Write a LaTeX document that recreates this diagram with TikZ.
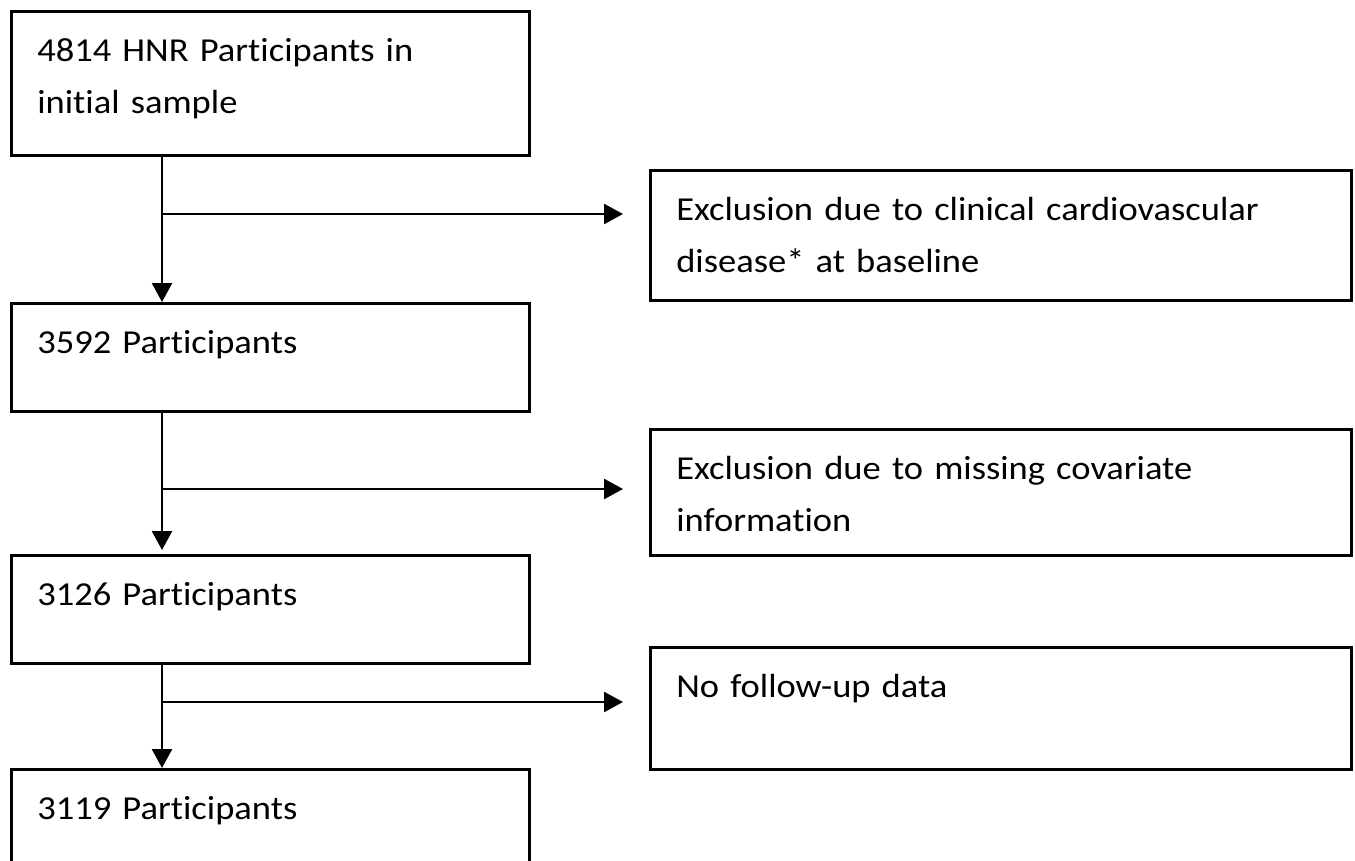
\documentclass[tikz,border=0pt]{standalone}
\usepackage{fontspec}
\setmainfont{Carlito}[Ligatures=CommonOff, FakeStretch=1.09]
\usetikzlibrary{arrows.meta}

\begin{document}
\begin{tikzpicture}[x=1pt, y=-1pt,
	box/.style={draw, line width=2.6pt, anchor=north west, align=left, inner xsep=26pt, inner ysep=24pt, text height=26pt, font=\fontsize{33.5}{52}\selectfont},
	stage/.style={box, text width=466pt, text depth=#1},
	excl/.style={box, text width=649pt, text depth=#1},
	flow/.style={line width=2.6pt, -{Triangle[length=19pt, width=20pt]}}]
		\useasboundingbox (0,0) rectangle (1355,861);
		
		\node[stage=70pt] (b1) at (10,10) {4814 HNR Participants in\\initial sample};
		\node[stage=34pt] (b2) at (10,302) {3592 Participants};
		\node[stage=34pt] (b3) at (10,554) {3126 Participants};
		\node[stage=34pt] (b4) at (10,768) {3119 Participants};
		
		\node[excl=56pt] (x1) at (649,169) {Exclusion due to clinical cardiovascular\\disease* at baseline};
		\node[excl=52pt] (x2) at (649,428) {Exclusion due to missing covariate\\information};
		\node[excl=48pt] (x3) at (649,646) {No follow-up data};
		
		%% main flow
		\draw[flow] ([xshift=152pt]b1.south west) -- ([xshift=152pt]b2.north west);
		\draw[flow, shorten >=4pt] ([xshift=152pt]b2.south west) -- ([xshift=152pt]b3.north west);
		\draw[flow] ([xshift=152pt]b3.south west) -- ([xshift=152pt]b4.north west);
		
		%% exclusions
		\coordinate (j1) at (162,214);
		\coordinate (e1) at (623,214);
		\coordinate (j2) at (162,489);
		\coordinate (e2) at (623,489);
		\coordinate (j3) at (162,702);
		\coordinate (e3) at (623,702);
		\draw[flow] (j1) -- (e1);
		\draw[flow] (j2) -- (e2);
		\draw[flow] (j3) -- (e3);
		
	\end{tikzpicture}
\end{document}
